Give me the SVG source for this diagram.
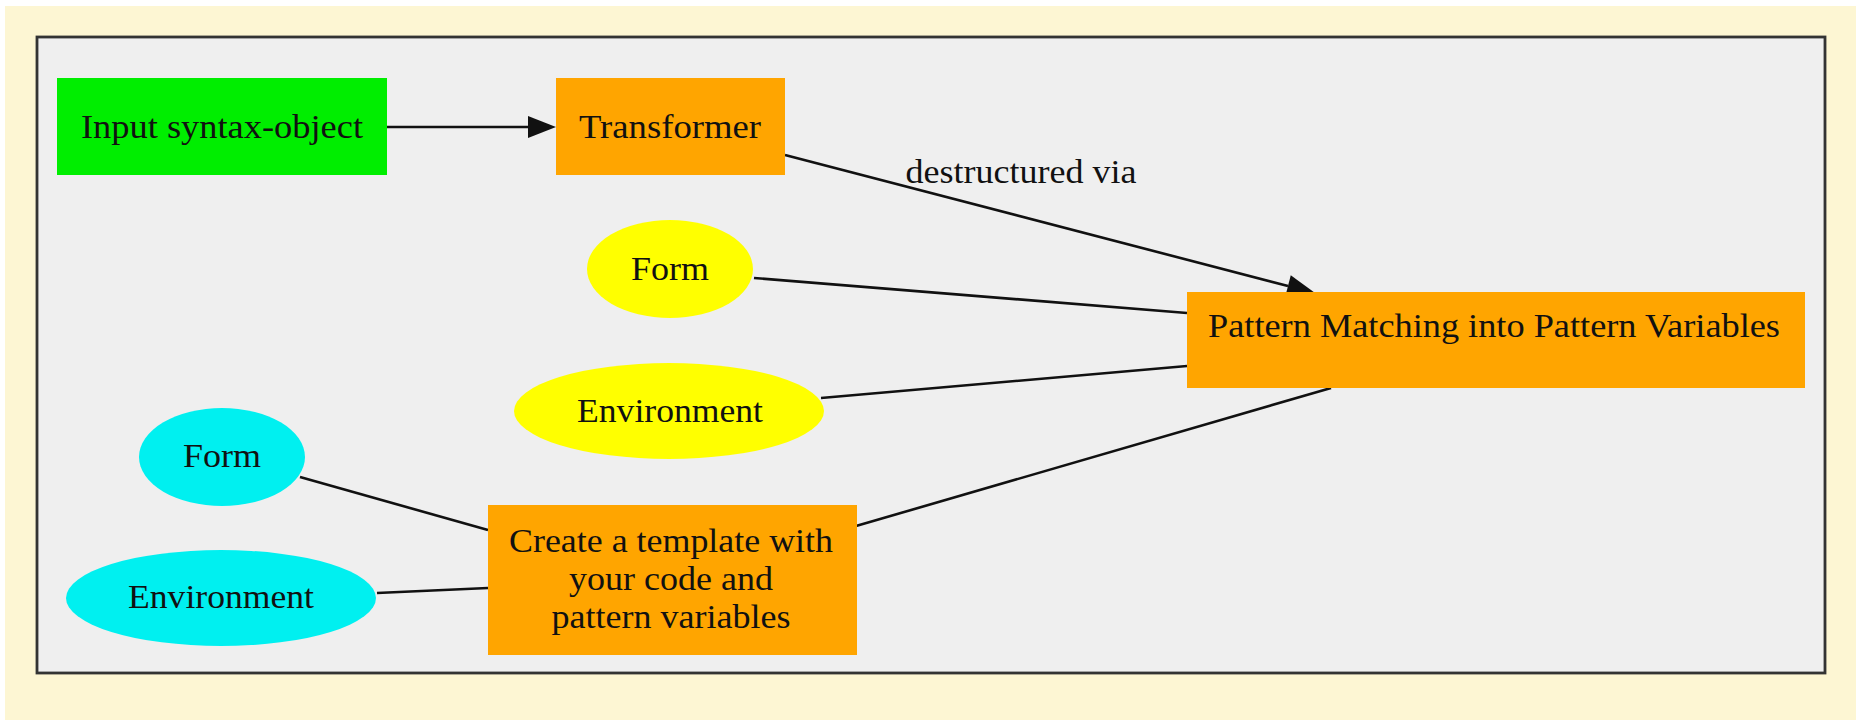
<svg xmlns="http://www.w3.org/2000/svg" width="1860" height="720" viewBox="0 0 1860 720">
<style>
.lbl{font-family:"Liberation Serif","Times New Roman",serif;font-size:33px;fill:#111;text-anchor:middle}
.edge{stroke:#111;stroke-width:2.6;fill:none}
.box{stroke:none}
</style>
<defs>
<marker id="arr" markerUnits="userSpaceOnUse" markerWidth="30" markerHeight="24" refX="0" refY="11" orient="auto" overflow="visible">
<path d="M0,0 L28,11 L0,22 Z" fill="#111"/>
</marker>
</defs>
<rect x="0" y="0" width="1860" height="720" fill="#ffffff"/>
<rect x="5" y="6" width="1851" height="714" fill="#fdf6d3"/>
<rect id="cluster" x="37" y="37" width="1788" height="636" fill="#efefef" stroke="#333" stroke-width="2.8"/>
<g id="connectors">
<line class="edge" x1="387" y1="127" x2="528" y2="127" marker-end="url(#arr)"/>
<line class="edge" x1="785" y1="155" x2="1288" y2="286" marker-end="url(#arr)"/>
<text class="lbl" x="1021" y="183" textLength="231" lengthAdjust="spacingAndGlyphs">destructured via</text>
<line class="edge" x1="754" y1="278" x2="1187" y2="313"/>
<line class="edge" x1="821" y1="398" x2="1187" y2="366"/>
<line class="edge" x1="856" y1="526" x2="1331" y2="388"/>
<line class="edge" x1="300" y1="477" x2="488" y2="530"/>
<line class="edge" x1="377" y1="593" x2="488" y2="588"/>
</g>
<g id="input">
<rect class="box" x="57" y="78" width="330" height="97" fill="#00ee00"/>
<text class="lbl" x="222" y="138" textLength="282" lengthAdjust="spacingAndGlyphs">Input syntax-object</text>
</g>
<g id="transformer">
<rect class="box" x="556" y="78" width="229" height="97" fill="#ffa500"/>
<text class="lbl" x="670" y="138" textLength="182" lengthAdjust="spacingAndGlyphs">Transformer</text>
</g>
<g id="form_y">
<ellipse cx="670" cy="269" rx="83" ry="49" fill="#ffff00"/>
<text class="lbl" x="670" y="280" textLength="78" lengthAdjust="spacingAndGlyphs">Form</text>
</g>
<g id="env_y">
<ellipse cx="669" cy="411" rx="155" ry="48" fill="#ffff00"/>
<text class="lbl" x="670" y="422" textLength="186" lengthAdjust="spacingAndGlyphs">Environment</text>
</g>
<g id="pattern">
<rect class="box" x="1187" y="292" width="618" height="96" fill="#ffa500"/>
<text class="lbl" x="1494" y="337" textLength="572" lengthAdjust="spacingAndGlyphs">Pattern Matching into Pattern Variables</text>
</g>
<g id="form_c">
<ellipse cx="222" cy="457" rx="83" ry="49" fill="#00f0f0"/>
<text class="lbl" x="222" y="467" textLength="78" lengthAdjust="spacingAndGlyphs">Form</text>
</g>
<g id="env_c">
<ellipse cx="221" cy="598" rx="155" ry="48" fill="#00f0f0"/>
<text class="lbl" x="221" y="608" textLength="186" lengthAdjust="spacingAndGlyphs">Environment</text>
</g>
<g id="template">
<rect class="box" x="488" y="505" width="369" height="150" fill="#ffa500"/>
<text class="lbl" x="671" y="552" textLength="324" lengthAdjust="spacingAndGlyphs">Create a template with</text>
<text class="lbl" x="671" y="590" textLength="204" lengthAdjust="spacingAndGlyphs">your code and</text>
<text class="lbl" x="671" y="628" textLength="239" lengthAdjust="spacingAndGlyphs">pattern variables</text>
</g>
</svg>
